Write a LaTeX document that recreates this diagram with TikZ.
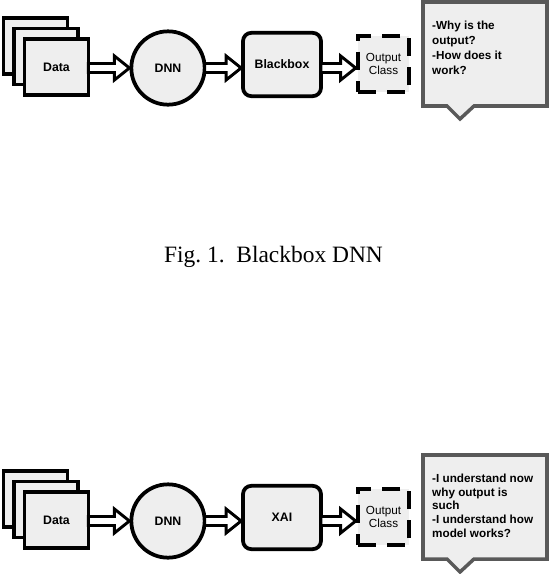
\documentclass[tikz,border=0pt]{standalone}
\usepackage{fontspec}
\setmainfont{Liberation Serif}
\newfontfamily\arialfont{Liberation Sans}
\usetikzlibrary{calc}

\definecolor{boxgrey}{HTML}{EEEEEE}
\definecolor{bubbleline}{HTML}{595959}

% block arrow from node #1 to node #2, on the row axis (ax)
\newcommand{\hollowarrow}[2]{%
  \draw[hollow] ($(#1.east |- ax)+(-2,-4.5)$) -- ($(#2.west |- ax)+(-15,-4.5)$)
    -- ($(#2.west |- ax)+(-15,-12)$) -- (#2.west |- ax)
    -- ($(#2.west |- ax)+(-15,12)$) -- ($(#2.west |- ax)+(-15,4.5)$)
    -- ($(#1.east |- ax)+(-2,4.5)$) -- cycle;}

\begin{document}
\begin{tikzpicture}[x=0.03cm,y=-0.03cm,
  label/.style={font=\arialfont\bfseries\fontsize{10.5}{12}\selectfont},
  page/.style={label,draw,fill=boxgrey,line width=3.2pt,minimum width=1.92cm,minimum height=1.68cm},
  net/.style={label,draw,fill=boxgrey,line width=3.2pt,circle,minimum size=2.2cm},
  model/.style={label,draw,fill=boxgrey,line width=3.2pt,rounded corners=0.25cm,minimum width=2.34cm,minimum height=1.9cm},
  outcls/.style={draw,fill=boxgrey,line width=3.4pt,dash pattern=on 0.55cm off 0.33cm,minimum width=1.55cm,minimum height=1.7cm,align=center,font=\arialfont\fontsize{10}{11}\selectfont},
  bubble/.style={draw=bubbleline,fill=boxgrey,line width=3pt,line join=miter},
  asktext/.style={anchor=north west,inner sep=0pt,align=left,font=\arialfont\bfseries\fontsize{10}{\lskip}\selectfont},
  hollow/.style={draw=black,fill=white,line width=2.5pt,line join=miter},
  caption/.style={font=\fontsize{20}{24}\selectfont}]
  \useasboundingbox (0,0) rectangle (550,574);
  \foreach \oy/\boxname/\ask/\lskip in {0/Blackbox/{-Why is the\\output?\\-How does it\\work?}/12.75,
      453/XAI/{-I understand now\\why output is\\such\\-I understand how\\model works?}/11.8}{
    \begin{scope}[shift={(0,\oy)}]
      \coordinate (ax) at (0,68);
      \foreach \i in {0,1}
        \node[page] at (35.5+10.5*\i,46+10.5*\i) {};
      \node[page] (data) at (56.5,67) {Data};
      \node[net] (dnn) at (168,68) {DNN};
      \node[model] (box) at (282,64.5) {\boxname};
      \node[outcls] (out) at (383.5,64) {Output\\Class};
      \draw[bubble] (423,2) -- (547,2) -- (547,106) -- (474,106) -- (460,119)
        -- (447,106) -- (423,106) -- cycle;
      \node[asktext] (asktxt) at (432,20.5) {\ask};
      \hollowarrow{data}{dnn}
      \hollowarrow{dnn}{box}
      \hollowarrow{box}{out}
    \end{scope}
  }
  \node[caption] (cap) at (273.5,257) {Fig.~1.\enspace Blackbox DNN};
\end{tikzpicture}
\end{document}
